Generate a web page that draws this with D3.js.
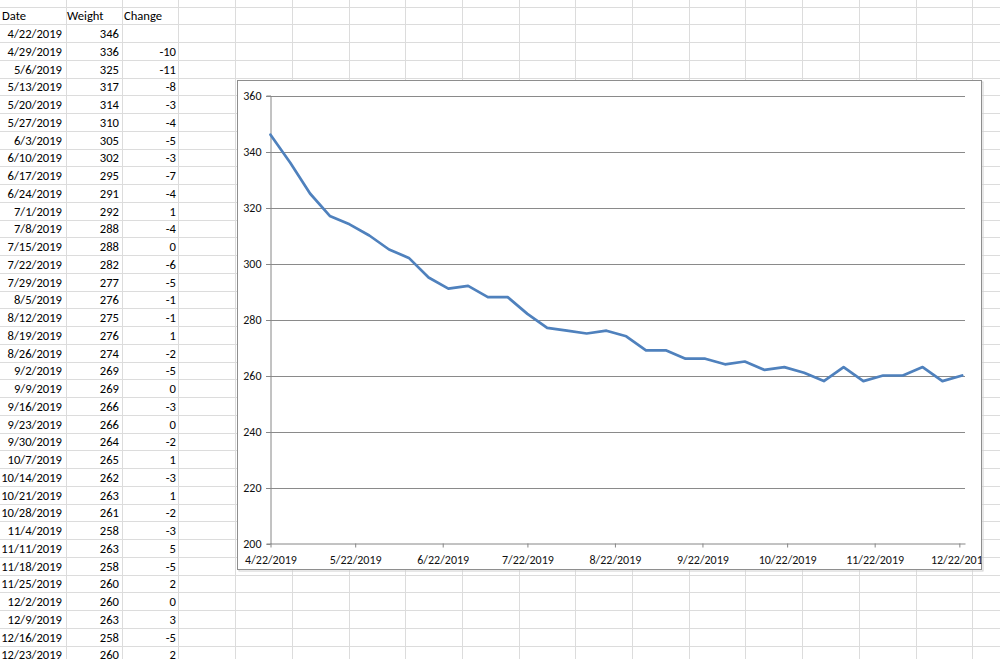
<!DOCTYPE html>
<html>
<head>
<meta charset="utf-8">
<script src="https://cdn.jsdelivr.net/npm/d3@7"></script>
<style>
  html, body { margin: 0; padding: 0; background: #fff; }
  svg { display: block; }
  .cell { font-family: Carlito, Calibri, "Liberation Sans", sans-serif; font-size: 12.6px; fill: #000; }
  .axis text { font-family: Carlito, Calibri, "Liberation Sans", sans-serif; font-size: 12px; fill: #111; }
</style>
</head>
<body>
<svg id="chart" width="1000" height="659"></svg>
<script>
// ---- data ----
const headers = ["Date", "Weight", "Change"];
const dates = ["4/22/2019","4/29/2019","5/6/2019","5/13/2019","5/20/2019","5/27/2019","6/3/2019","6/10/2019","6/17/2019","6/24/2019","7/1/2019","7/8/2019","7/15/2019","7/22/2019","7/29/2019","8/5/2019","8/12/2019","8/19/2019","8/26/2019","9/2/2019","9/9/2019","9/16/2019","9/23/2019","9/30/2019","10/7/2019","10/14/2019","10/21/2019","10/28/2019","11/4/2019","11/11/2019","11/18/2019","11/25/2019","12/2/2019","12/9/2019","12/16/2019","12/23/2019"];
const weights = [346,336,325,317,314,310,305,302,295,291,292,288,288,282,277,276,275,276,274,269,269,266,266,264,265,262,263,261,258,263,258,260,260,263,258,260];
const changes = [null,-10,-11,-8,-3,-4,-5,-3,-7,-4,1,-4,0,-6,-5,-1,-1,1,-2,-5,0,-3,0,-2,1,-3,1,-2,-3,5,-5,2,0,3,-5,2];
const xTickLabels = ["4/22/2019","5/22/2019","6/22/2019","7/22/2019","8/22/2019","9/22/2019","10/22/2019","11/22/2019","12/22/2019"];
const yTicks = [200,220,240,260,280,300,320,340,360];
const xDomainEnd = "12/24/2019";

const parse = d3.timeParse("%-m/%-d/%Y");
const fmt = d3.timeFormat("%-m/%-d/%Y");

const svg = d3.select("#chart");
svg.append("rect").attr("width", 1000).attr("height", 659).attr("fill", "#fff");

// ---- spreadsheet grid ----
const rowTop = 6.55, rowH = 17.75;
const colLines = [65.7];
for (let k = 0; k < 16; k++) colLines.push(121.7 + k * 56.7);
const grid = svg.append("g").attr("stroke", "#dcdcdc").attr("stroke-width", 1);
for (let n = -1; n < 38; n++) {
  const y = Math.round(rowTop + n * rowH) + 0.5;
  grid.append("line").attr("x1", 0).attr("x2", 1000).attr("y1", y).attr("y2", y);
}
colLines.forEach(x => {
  const xx = Math.round(x) + 0.5;
  grid.append("line").attr("x1", xx).attr("x2", xx).attr("y1", 0).attr("y2", 659);
});

// ---- cells ----
const cells = svg.append("g").attr("class", "cell");
const baseOf = i => rowTop + (i + 1) * rowH - 4;
cells.append("text").attr("x", 2).attr("y", baseOf(0)).text(headers[0]);
cells.append("text").attr("x", 67).attr("y", baseOf(0)).text(headers[1]);
cells.append("text").attr("x", 124).attr("y", baseOf(0)).text(headers[2]);
dates.forEach((d, i) => {
  const y = baseOf(i + 1);
  cells.append("text").attr("x", 62).attr("y", y).attr("text-anchor", "end").text(d);
  cells.append("text").attr("x", 119).attr("y", y).attr("text-anchor", "end").text(weights[i]);
  if (changes[i] !== null)
    cells.append("text").attr("x", 176).attr("y", y).attr("text-anchor", "end").text(changes[i]);
});

// ---- chart object ----
const box = { x: 237.5, y: 80.5, w: 744, h: 489 };
svg.append("defs").append("clipPath").attr("id", "clipBox")
  .append("rect").attr("x", box.x).attr("y", box.y).attr("width", box.w).attr("height", box.h);
svg.append("rect").attr("x", box.x + 1.5).attr("y", box.y + 1.5).attr("width", box.w).attr("height", box.h)
  .attr("fill", "none").attr("stroke", "#d0d0d0").attr("stroke-width", 1);
svg.append("rect").attr("x", box.x).attr("y", box.y).attr("width", box.w).attr("height", box.h)
  .attr("fill", "#fff").attr("stroke", "#8e8e8e").attr("stroke-width", 1);

const chart = svg.append("g").attr("clip-path", "url(#clipBox)");
const data = dates.map((d, i) => ({ date: parse(d), w: weights[i] }));

const x = d3.scaleTime().domain([parse(dates[0]), parse(xDomainEnd)]).range([270.5, 965]);
const y = d3.scaleLinear().domain([200, 360]).range([543.5, 95.5]);

// gridlines
chart.append("g").selectAll("line").data(yTicks.filter(t => t !== 200)).join("line")
  .attr("x1", 266).attr("x2", 965)
  .attr("y1", d => Math.round(y(d)) + 0.5).attr("y2", d => Math.round(y(d)) + 0.5)
  .attr("stroke", "#8a8a8a").attr("stroke-width", 1);

// y axis
const yAxis = chart.append("g").attr("class", "axis").attr("transform", "translate(270.5,0)")
  .call(d3.axisLeft(y).tickValues(yTicks).tickSize(4).tickPadding(5).tickFormat(d3.format("d")));
yAxis.select(".domain").attr("stroke", "#868686");
yAxis.selectAll(".tick line").attr("stroke", "#868686");
yAxis.selectAll(".tick").attr("transform", d => `translate(0,${Math.round(y(d)) + 0.5})`);

// x axis
const xAxis = chart.append("g").attr("class", "axis").attr("transform", "translate(0,543.5)")
  .call(d3.axisBottom(x).tickValues(xTickLabels.map(parse)).tickSize(4).tickSizeOuter(0).tickPadding(8).tickFormat(fmt));
xAxis.select(".domain").attr("stroke", "#868686");
xAxis.selectAll(".tick line").attr("stroke", "#868686");

// series line
chart.append("path").datum(data)
  .attr("fill", "none").attr("stroke", "#4f81bd").attr("stroke-width", 2.7)
  .attr("stroke-linejoin", "round").attr("stroke-linecap", "round")
  .attr("d", d3.line().x(d => x(d.date)).y(d => y(d.w)));
</script>
</body>
</html>
